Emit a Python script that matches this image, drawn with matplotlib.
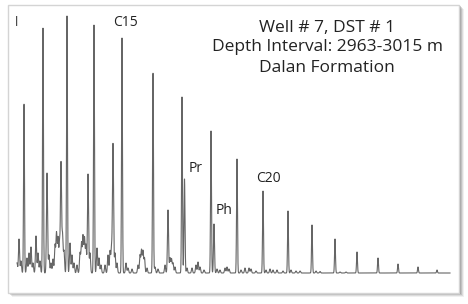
import matplotlib.pyplot as plt
import numpy as np
from matplotlib.patches import Rectangle

# n-alkane peaks (retention position, height), C11 ... C28
alk_pos = [24, 43, 67, 94, 122, 153, 182, 211, 237, 263, 288, 312, 335, 357, 378, 398, 418, 437]
alk_h = [169, 245, 257, 248, 235, 200, 176, 142, 114, 82, 62, 48, 34, 21, 15, 9, 6, 3]

# isoprenoids
iso_pos = [184.5, 214]
iso_h = [94, 49]
iso_lab = ['Pr', 'Ph']

# minor peaks / unresolved clusters
minor_pos = [17, 19, 21, 27, 29, 31, 33, 36, 38, 40, 47, 49, 51, 53, 55, 56.5, 58, 59.5,
             61, 62.5, 64, 70, 72, 74, 77, 80, 81.5, 83, 84.5, 86, 88, 90, 97, 99, 101,
             105, 108, 110, 111.5, 113, 115, 117, 126, 128, 132, 138, 140, 141.5, 143,
             144.5, 147, 155, 158, 165, 168, 170, 171.5, 173, 175, 187, 192, 196, 198,
             200, 204, 217, 220, 225, 227, 229, 241, 245, 249, 251, 256, 266, 270, 273,
             277, 283, 291, 296, 300, 316, 320, 340, 346]
minor_h = [10, 34, 12, 15, 20, 26, 10, 37, 20, 12, 100, 18, 10, 14, 28, 40, 35, 30,
           110, 38, 22, 30, 18, 10, 8, 20, 30, 37, 35, 28, 99, 20, 25, 15, 8,
           8, 18, 22, 25, 129, 20, 10, 10, 5, 4, 8, 18, 23, 22, 15, 5, 6, 4, 8, 63,
           15, 14, 10, 6, 5, 5, 8, 11, 6, 3, 4, 3, 5, 6, 4, 3, 5, 5, 4, 2, 3, 4, 3,
           3, 2, 3, 2, 2, 2, 1.5, 1, 1]

t = np.linspace(17, 450, 9000)
sig = np.zeros_like(t)
for p, h in zip(alk_pos, alk_h):
    sig += h * np.exp(-0.5 * ((t - p) / 0.45) ** 2)
for p, h in zip(iso_pos, iso_h):
    sig += h * np.exp(-0.5 * ((t - p) / 0.5) ** 2)
for p, h in zip(minor_pos, minor_h):
    sig += h * np.exp(-0.5 * ((t - p) / 0.55) ** 2)

fig = plt.figure(figsize=(4.68, 3.04), dpi=100)
ax = fig.add_axes([0, 0, 1, 1])
ax.set_xlim(0, 468)
ax.set_ylim(-31, 273)
ax.axis('off')

# frame with soft drop shadow
for i, a in enumerate([0.10, 0.16, 0.24, 0.35]):
    d = 4 - i
    ax.add_patch(Rectangle((8 + d, -20 - d), 452, 288, facecolor='#707070',
                           edgecolor='none', alpha=a, zorder=0))
ax.add_patch(Rectangle((8, -20), 451, 288, facecolor='white', edgecolor='#d4d4d4',
                       lw=1.0, zorder=1))

ax.plot(t, sig, color='#666666', lw=0.8, zorder=2)

ax.text(17, 250, 'l', fontsize=9, color='#333333', ha='center', va='center',
        family='Open Sans', zorder=3)
ax.text(126, 250, 'C15', fontsize=10, color='#222222', ha='center', va='center',
        family='Open Sans', zorder=3)
ax.text(268, 94, 'C20', fontsize=10, color='#222222', ha='center', va='center',
        family='Open Sans', zorder=3)
ax.text(196, 104, iso_lab[0], fontsize=10, color='#222222', ha='center', va='center',
        family='Open Sans', zorder=3)
ax.text(224, 62, iso_lab[1], fontsize=10, color='#222222', ha='center', va='center',
        family='Open Sans', zorder=3)

ax.text(327, 245, 'Well # 7, DST # 1', fontsize=12.5, color='#222222', ha='center',
        va='center', family='Open Sans', zorder=3)
ax.text(327, 226, 'Depth Interval: 2963-3015 m', fontsize=12.5, color='#222222',
        ha='center', va='center', family='Open Sans', zorder=3)
ax.text(327, 205, 'Dalan Formation', fontsize=12.5, color='#222222', ha='center',
        va='center', family='Open Sans', zorder=3)

fig.savefig('out.png', dpi=100, facecolor='white')
